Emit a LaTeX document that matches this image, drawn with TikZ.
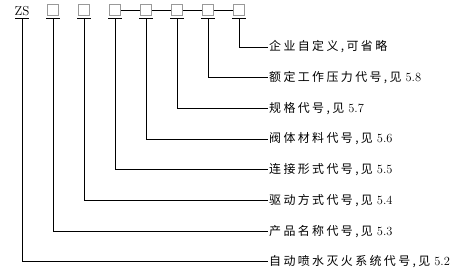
\documentclass[tikz,border=0pt]{standalone}
\usepackage{fontspec}
\newfontfamily\cjk[LetterSpace=20]{Noto Sans CJK SC}
\newcommand{\refnum}[1]{\hspace{4bp}{\fontsize{12.5}{13}\selectfont #1}}
\begin{document}
\begin{tikzpicture}[x=1bp,y=-1bp,
  codebox/.style={draw=gray!80,line width=0.7bp,minimum size=11bp,inner sep=0pt},
  lab/.style={anchor=west,inner sep=0pt,font=\fontsize{12}{13}\selectfont},
  ln/.style={line width=1bp,black}]
\useasboundingbox (0,0) rectangle (472,274);
% top row
\node[inner sep=0pt,anchor=base,font=\fontsize{13}{14}\selectfont] (t0) at (22,15.5) {ZS};
\foreach \i in {1,...,7}{
  \node[codebox] (t\i) at ({22+31*\i},10.2) {};
  \coordinate (u\i) at ({22+31*\i},18);
}
\coordinate (u0) at (22,18);
\foreach \i in {0,...,7}{
  \draw[ln] ([xshift=-7bp]u\i) -- ([xshift=7bp]u\i);
}
\foreach \a/\b in {3/4,4/5,5/6,6/7}{
  \draw[ln] (t\a.east) -- (t\b.west);
}
% labels
\node[lab] (l7) at (269,47)    {{\cjk 企业自定义,可省略}};
\node[lab] (l6) at (269,77.7)  {{\cjk 额定工作压力代号,见}\refnum{5.8}};
\node[lab] (l5) at (269,108.4) {{\cjk 规格代号,见}\refnum{5.7}};
\node[lab] (l4) at (269,139.1) {{\cjk 阀体材料代号,见}\refnum{5.6}};
\node[lab] (l3) at (269,169.8) {{\cjk 连接形式代号,见}\refnum{5.5}};
\node[lab] (l2) at (269,200.5) {{\cjk 驱动方式代号,见}\refnum{5.4}};
\node[lab] (l1) at (269,231.2) {{\cjk 产品名称代号,见}\refnum{5.3}};
\node[lab] (l0) at (269,261.5) {{\cjk 自动喷水灭火系统代号,见}\refnum{5.2}};
\foreach \i in {0,...,7}{
  \draw[ln] (u\i) |- ([xshift=-1.5bp]l\i.west);
}
\end{tikzpicture}
\end{document}
